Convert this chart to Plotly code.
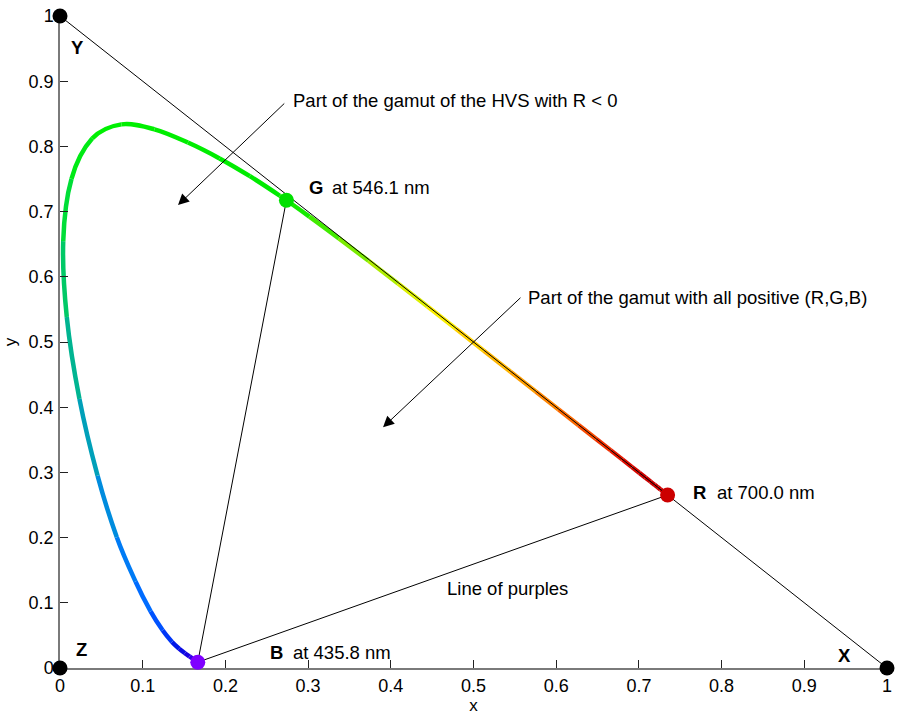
import plotly.graph_objects as go

# CIE 1931 spectral locus (chromaticity x, y) from 435.8 nm to 700 nm
wavelength = [435.8, 440, 445, 450, 455, 460, 465, 470, 475, 480, 485, 490, 495,
              500, 505, 510, 515, 520, 525, 530, 535, 540, 545, 550, 555, 560,
              565, 570, 575, 580, 585, 590, 595, 600, 605, 610, 615, 620, 625,
              630, 635, 640, 645, 650, 655, 660, 665, 670, 675, 680, 685, 690,
              695, 700]
locus_x = [0.1666, 0.1644, 0.1611, 0.1566, 0.1510, 0.1440, 0.1355, 0.1241, 0.1096,
           0.0913, 0.0687, 0.0454, 0.0235, 0.0082, 0.0039, 0.0139, 0.0389, 0.0743,
           0.1142, 0.1547, 0.1929, 0.2296, 0.2658, 0.3016, 0.3373, 0.3731, 0.4087,
           0.4441, 0.4788, 0.5125, 0.5448, 0.5752, 0.6029, 0.6270, 0.6482, 0.6658,
           0.6801, 0.6915, 0.7006, 0.7079, 0.7140, 0.7190, 0.7230, 0.7260, 0.7283,
           0.7300, 0.7311, 0.7320, 0.7327, 0.7334, 0.7340, 0.7344, 0.7346, 0.7347]
locus_y = [0.0089, 0.0109, 0.0138, 0.0177, 0.0227, 0.0297, 0.0399, 0.0578, 0.0868,
           0.1327, 0.2007, 0.2950, 0.4127, 0.5384, 0.6548, 0.7502, 0.8120, 0.8338,
           0.8262, 0.8059, 0.7816, 0.7543, 0.7243, 0.6923, 0.6589, 0.6245, 0.5896,
           0.5547, 0.5202, 0.4866, 0.4544, 0.4242, 0.3965, 0.3725, 0.3514, 0.3340,
           0.3197, 0.3083, 0.2993, 0.2920, 0.2859, 0.2809, 0.2770, 0.2740, 0.2717,
           0.2700, 0.2689, 0.2680, 0.2673, 0.2666, 0.2660, 0.2656, 0.2654, 0.2653]

# CIE RGB primaries
primary_names = ["R", "G", "B"]
primary_nm = [700.0, 546.1, 435.8]
primary_x = [0.7347, 0.2738, 0.1666]
primary_y = [0.2653, 0.7174, 0.0089]

# XYZ reference corners
corner_names = ["X", "Y", "Z"]
corner_x = [1.0, 0.0, 0.0]
corner_y = [0.0, 1.0, 0.0]

# wavelength -> display colour ramp
ramp = [
    (435.8, (128, 0, 255)), (445, (70, 0, 240)), (452, (25, 0, 225)),
    (462, (0, 20, 230)), (470, (0, 70, 255)), (478, (0, 110, 255)),
    (485, (0, 130, 240)), (490, (0, 150, 205)), (495, (0, 170, 165)),
    (500, (0, 190, 125)), (505, (0, 212, 80)), (510, (0, 232, 30)),
    (518, (0, 240, 0)), (545, (0, 235, 0)), (552, (60, 235, 0)),
    (560, (150, 235, 0)), (566, (210, 240, 0)), (572, (250, 240, 0)),
    (578, (255, 205, 0)), (585, (255, 170, 0)), (595, (255, 120, 0)),
    (605, (245, 60, 0)), (615, (225, 15, 0)), (630, (205, 0, 0)),
    (700, (200, 0, 0)),
]


def wl_color(w):
    for (w0, c0), (w1, c1) in zip(ramp[:-1], ramp[1:]):
        if w0 <= w <= w1:
            t = (w - w0) / (w1 - w0)
            r, g, b = (round(a + (bb - a) * t) for a, bb in zip(c0, c1))
            return f"rgb({r},{g},{b})"
    return "rgb(200,0,0)"


FONT = "Liberation Sans, Arial, Helvetica, sans-serif"
TEXT_SIZE = 18.5

fig = go.Figure()

# spectral locus as smooth coloured pieces (Catmull-Rom -> cubic Bezier)
n = len(wavelength)
shapes = []
for i in range(n - 1):
    p0 = (locus_x[max(i - 1, 0)], locus_y[max(i - 1, 0)])
    p1 = (locus_x[i], locus_y[i])
    p2 = (locus_x[i + 1], locus_y[i + 1])
    p3 = (locus_x[min(i + 2, n - 1)], locus_y[min(i + 2, n - 1)])
    c1 = (p1[0] + (p2[0] - p0[0]) / 6, p1[1] + (p2[1] - p0[1]) / 6)
    c2 = (p2[0] - (p3[0] - p1[0]) / 6, p2[1] - (p3[1] - p1[1]) / 6)
    path = (f"M {p1[0]},{p1[1]} C {c1[0]},{c1[1]} {c2[0]},{c2[1]} {p2[0]},{p2[1]}")
    shapes.append(dict(type="path", path=path, xref="x", yref="y", layer="below",
                       line=dict(color=wl_color((wavelength[i] + wavelength[i + 1]) / 2),
                                 width=4.5)))

# X-Y edge of the triangle
fig.add_trace(go.Scatter(x=[corner_x[0], corner_x[1]], y=[corner_y[0], corner_y[1]],
                         mode="lines", line=dict(color="black", width=1),
                         hoverinfo="skip", showlegend=False))
# G-B-R edges of the RGB gamut triangle
fig.add_trace(go.Scatter(x=[primary_x[1], primary_x[2], primary_x[0]],
                         y=[primary_y[1], primary_y[2], primary_y[0]],
                         mode="lines", line=dict(color="black", width=1),
                         hoverinfo="skip", showlegend=False))
# corner markers
fig.add_trace(go.Scatter(x=corner_x, y=corner_y, mode="markers",
                         marker=dict(color="black", size=15),
                         cliponaxis=False, showlegend=False))
# primaries
fig.add_trace(go.Scatter(x=primary_x, y=primary_y, mode="markers",
                         marker=dict(color=["#cc0000", "#00e000", "#7f00ff"], size=15),
                         cliponaxis=False, showlegend=False))

ann = []


def label(x, y, text, bold=False, xanchor="left"):
    ann.append(dict(x=x, y=y, xref="x", yref="y", showarrow=False,
                    text=f"<b>{text}</b>" if bold else text, xanchor=xanchor,
                    yanchor="middle", font=dict(family=FONT, size=TEXT_SIZE, color="black")))


# primary labels
label_pos = {"R": (0.763, 0.792, 0.2695), "G": (0.2987, 0.3265, 0.737),
             "B": (0.2515, 0.2793, 0.024)}
for name, nm in zip(primary_names, primary_nm):
    bx, tx, ty = label_pos[name]
    label(bx, ty, name, bold=True)
    label(tx, ty, f"at {nm:.1f} nm")

# corner labels
corner_pos = {"X": (0.949, 0.0195), "Y": (0.0206, 0.952), "Z": (0.0254, 0.0287)}
for name in corner_names:
    cx, cy = corner_pos[name]
    label(cx, cy, name, bold=True, xanchor="center")

label(0.5417, 0.122, "Line of purples", xanchor="center")
label(0.2793, 0.8707, "Part of the gamut of the HVS with R &lt; 0")
label(0.5635, 0.5686, "Part of the gamut with all positive (R,G,B)")

# pointer arrows
for (hx, hy, tx, ty) in [(0.1427, 0.710, 0.273, 0.868), (0.3906, 0.3692, 0.5586, 0.570)]:
    ann.append(dict(x=hx, y=hy, ax=tx, ay=ty, xref="x", yref="y", axref="x", ayref="y",
                    text="", showarrow=True, arrowhead=2, arrowsize=2.2, arrowwidth=1,
                    arrowcolor="black", standoff=0, startstandoff=0))

ticks = [i / 10 for i in range(11)]
ticktext = ["0"] + [f"{t:.1f}" for t in ticks[1:-1]] + ["1"]
axis_common = dict(range=[0, 1], tickvals=ticks, ticktext=ticktext, showgrid=False,
                   zeroline=False, showline=True, linecolor="#7a7a7a", linewidth=1.5,
                   ticks="inside", ticklen=8, tickcolor="#222", tickwidth=1,
                   tickfont=dict(family=FONT, size=18, color="black"),
                   layer="below traces", fixedrange=True, automargin=False)

fig.update_layout(
    width=897, height=715,
    margin=dict(l=60, r=10, t=16, b=47, autoexpand=False),
    paper_bgcolor="white", plot_bgcolor="white",
    xaxis=dict(**axis_common, ticklabelstandoff=1,
               title=dict(text="x", standoff=8,
                          font=dict(family=FONT, size=17, color="black"))),
    yaxis=dict(**axis_common, ticklabelstandoff=1,
               title=dict(text="y", standoff=8,
                          font=dict(family=FONT, size=17, color="black"))),
    shapes=shapes, annotations=ann, showlegend=False,
)

fig.write_html("out.html")
